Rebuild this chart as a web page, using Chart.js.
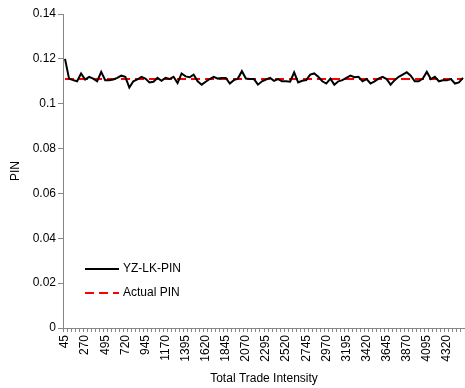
<!DOCTYPE html>
<html>
<head>
<meta charset="utf-8">
<script src="https://cdn.jsdelivr.net/npm/chart.js@4.4.1/dist/chart.umd.min.js"></script>
<style>
  html, body { margin: 0; padding: 0; background: #ffffff; }
  #wrap { width: 465px; height: 388px; }
</style>
</head>
<body>
<div id="wrap"><canvas id="c" width="465" height="388"></canvas></div>
<script>
// Total trade intensity categories: 45, 90, ..., 4500
const intensity = Array.from({ length: 100 }, (_, i) => 45 * (i + 1));

// Estimated PIN from the YZ-LK method
const yzlkPin = [
  0.1200, 0.1112, 0.1105, 0.1100, 0.1135, 0.1108, 0.1120, 0.1112, 0.1100, 0.1142,
  0.1105, 0.1105, 0.1108, 0.1115, 0.1125, 0.1120, 0.1072, 0.1100, 0.1108, 0.1120,
  0.1112, 0.1095, 0.1098, 0.1115, 0.1102, 0.1115, 0.1110, 0.1120, 0.1092, 0.1135,
  0.1122, 0.1118, 0.1130, 0.1100, 0.1085, 0.1098, 0.1110, 0.1120, 0.1112, 0.1115,
  0.1115, 0.1090, 0.1105, 0.1112, 0.1145, 0.1112, 0.1110, 0.1110, 0.1085, 0.1100,
  0.1108, 0.1115, 0.1102, 0.1110, 0.1100, 0.1100, 0.1098, 0.1140, 0.1095, 0.1102,
  0.1105, 0.1130, 0.1135, 0.1120, 0.1100, 0.1090, 0.1112, 0.1085, 0.1100, 0.1105,
  0.1115, 0.1125, 0.1118, 0.1120, 0.1100, 0.1110, 0.1090, 0.1100, 0.1112, 0.1120,
  0.1110, 0.1085, 0.1105, 0.1120, 0.1130, 0.1140, 0.1125, 0.1100, 0.1100, 0.1112,
  0.1142, 0.1110, 0.1120, 0.1100, 0.1105, 0.1105, 0.1110, 0.1090, 0.1095, 0.1115
];

// True PIN used in the simulation (constant)
const actualPinValue = 0.111;
const actualPin = intensity.map(() => actualPinValue);

// Y axis ticks
const yTicks = [0, 0.02, 0.04, 0.06, 0.08, 0.1, 0.12, 0.14];

const AXIS_GRAY = '#868686';
const FONT = "'Liberation Sans', Arial, sans-serif";

// In-plot legend at the lower left of the chart area
const insetLegend = {
  id: 'insetLegend',
  afterDraw(chart) {
    const { ctx, chartArea } = chart;
    const x0 = chartArea.left + 22, x1 = chartArea.left + 56;
    const rows = [chartArea.bottom - 59, chartArea.bottom - 35];
    ctx.save();
    chart.data.datasets.forEach((ds, i) => {
      const y = rows[i];
      ctx.strokeStyle = ds.borderColor;
      ctx.lineWidth = ds.borderWidth;
      ctx.setLineDash(ds.borderDash || []);
      ctx.beginPath();
      ctx.moveTo(x0, y);
      ctx.lineTo(x1, y);
      ctx.stroke();
      ctx.setLineDash([]);
      ctx.fillStyle = '#000000';
      ctx.font = '12px ' + FONT;
      ctx.textBaseline = 'middle';
      ctx.textAlign = 'left';
      ctx.fillText(ds.label, x1 + 4, y);
    });
    ctx.restore();
  }
};

new Chart(document.getElementById('c'), {
  type: 'line',
  data: {
    labels: intensity,
    datasets: [
      {
        label: 'YZ-LK-PIN',
        data: yzlkPin,
        borderColor: '#000000',
        borderWidth: 2,
        pointRadius: 0,
        tension: 0,
        order: 1
      },
      {
        label: 'Actual PIN',
        data: actualPin,
        borderColor: '#ff0000',
        borderWidth: 2,
        borderDash: [9, 5],
        pointRadius: 0,
        tension: 0,
        order: 2
      }
    ]
  },
  options: {
    responsive: false,
    animation: false,
    layout: { padding: { top: 14, right: 0, left: 0, bottom: 0 } },
    plugins: {
      legend: { display: false },
      tooltip: { enabled: false }
    },
    scales: {
      x: {
        type: 'category',
        offset: true,
        grid: {
          offset: true,
          drawOnChartArea: false,
          drawTicks: true,
          tickLength: 4,
          color: AXIS_GRAY
        },
        border: { display: true, color: AXIS_GRAY, width: 1 },
        ticks: {
          autoSkip: false,
          maxRotation: 90,
          minRotation: 90,
          padding: 3,
          color: '#000000',
          font: { family: FONT, size: 12 },
          callback(value, index) { return index % 5 === 0 ? String(intensity[index]) : ''; }
        },
        title: {
          display: true,
          text: 'Total Trade Intensity',
          color: '#000000',
          font: { family: FONT, size: 12 },
          padding: { top: 0, bottom: 2 }
        },
        afterFit(scale) {
          scale.height = 60;
          scale.paddingLeft = 0;
          scale.paddingRight = 0;
        }
      },
      y: {
        min: 0,
        max: 0.14,
        afterBuildTicks(scale) { scale.ticks = yTicks.map(v => ({ value: v })); },
        grid: {
          drawOnChartArea: false,
          drawTicks: true,
          tickLength: 5,
          color: AXIS_GRAY
        },
        border: { display: true, color: AXIS_GRAY, width: 1 },
        ticks: {
          padding: 2,
          color: '#000000',
          font: { family: FONT, size: 12 },
          callback(value) { return String(Number(value.toFixed(2))); }
        },
        title: {
          display: true,
          text: 'PIN',
          color: '#000000',
          font: { family: FONT, size: 12 },
          padding: { top: 8, bottom: 0 }
        },
        afterFit(scale) { scale.width = 63; }
      }
    }
  },
  plugins: [insetLegend]
});
</script>
</body>
</html>
